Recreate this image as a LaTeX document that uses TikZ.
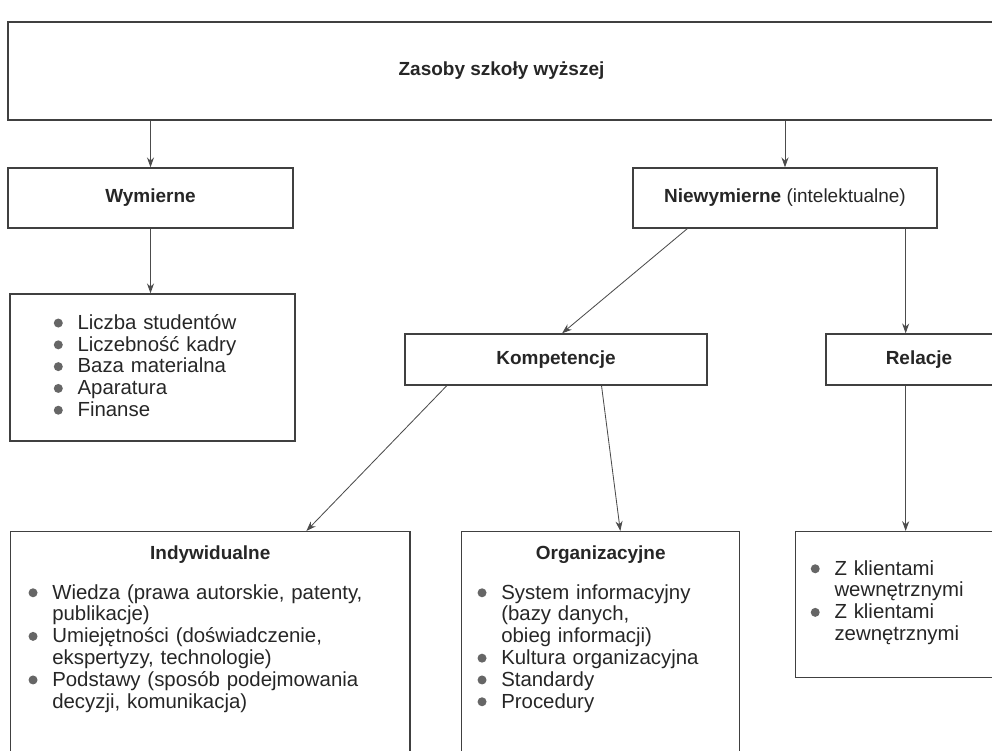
\documentclass[tikz,border=0pt]{standalone}
\usepackage{fontspec}
\setmainfont{Liberation Sans}
\usetikzlibrary{arrows.meta,positioning,calc}

\newcommand{\kropka}{\tikz[baseline=-0.31em]\fill[black!60] (0,0) circle (3.2pt);}
\newenvironment{punkty}{%
    \begin{list}{\kropka}{%
        \setlength{\labelwidth}{8pt}\setlength{\labelsep}{10.5pt}%
        \setlength{\leftmargin}{18.5pt}\setlength{\itemsep}{0pt}%
        \setlength{\parsep}{0pt}\setlength{\topsep}{0pt}%
        \setlength{\partopsep}{0pt}}}{\end{list}}

\begin{document}
\begin{tikzpicture}[x=0.025cm, y=-0.025cm,
    box/.style={draw=black!75, line width=1pt, inner sep=0pt},
    title/.style={font=\fontsize{13.5}{16}\selectfont\bfseries, text=black!85},
    items/.style={font=\fontsize{14.5}{15.5}\selectfont, text=black!85, text width=#1, inner sep=0pt, align=left},
    arr/.style={draw=black!70, line width=0.6pt, -{Stealth[length=7pt,width=5pt]}}]
    \useasboundingbox (0,0) rectangle (992,750);
    \clip (0,0) rectangle (992,750);
    \node[box, title, minimum width=24.675cm, minimum height=2.45cm] (zasoby) at (501.5,71) {Zasoby szkoły wyższej};
    \node[box, title, minimum width=7.125cm, minimum height=1.5cm] (wym) at (150.5,198) {Wymierne};
    \node[box, title, minimum width=7.6cm, minimum height=1.5cm] (niew) at (785,198) {Niewymierne {\mdseries (intelektualne)}};
    \node[box, minimum width=7.125cm, minimum height=3.675cm] (wymlista) at (152.5,367.5) {};
    \node[box, title, minimum width=7.55cm, minimum height=1.275cm] (komp) at (556,359.5) {Kompetencje};
    \node[box, title, minimum width=4.65cm, minimum height=1.275cm] (rel) at (919,359.5) {Relacje};
    \node[box, anchor=north west, minimum width=9.975cm, minimum height=6.5cm] (indyw) at (10,531) {};
    \node[box, anchor=north west, minimum width=6.95cm, minimum height=6.5cm] (org) at (461,531) {};
    \node[box, anchor=north west, minimum width=5.425cm, minimum height=3.65cm] (relk) at (795,531) {};

    \node[items=6cm, below right=0.35cm and 1.05cm of wymlista.north west] (wymlistatxt) {%
        \begin{punkty}
        \item Liczba studentów
        \item Liczebność kadry
        \item Baza materialna
        \item Aparatura
        \item Finanse
        \end{punkty}};
    \node[title, inner sep=0pt, below=0.35cm of indyw.north] (indywtit) {Indywidualne};
    \node[items=9cm, below right=1.15cm and 0.4cm of indyw.north west] (indywtxt) {%
        \begin{punkty}
        \item Wiedza (prawa autorskie, patenty,\newline publikacje)
        \item Umiejętności (doświadczenie,\newline ekspertyzy, technologie)
        \item Podstawy (sposób podejmowania\newline decyzji, komunikacja)
        \end{punkty}};
    \node[title, inner sep=0pt, below=0.35cm of org.north] (orgtit) {Organizacyjne};
    \node[items=6.5cm, below right=1.15cm and 0.35cm of org.north west] (orgtxt) {%
        \begin{punkty}
        \item System informacyjny\newline (bazy danych,\newline obieg informacji)
        \item Kultura organizacyjna
        \item Standardy
        \item Procedury
        \end{punkty}};
    \node[items=5cm, below right=0.55cm and 0.33cm of relk.north west] (relktxt) {%
        \begin{punkty}
        \item Z klientami\newline wewnętrznymi
        \item Z klientami\newline zewnętrznymi
        \end{punkty}};

    \draw[arr] (zasoby.south -| wym.north) -- (wym.north);
    \draw[arr] (zasoby.south -| niew.north) -- (niew.north);
    \draw[arr] (wym.south) -- (wym.south |- wymlista.north);
    \draw[arr] ($(niew.south west)!0.18!(niew.south east)$) -- ($(komp.north west)!0.52!(komp.north east)$);
    \coordinate (nrel) at ($(niew.south west)!0.895!(niew.south east)$);
    \draw[arr] (nrel) -- (nrel |- rel.north);
    \draw[arr] ($(komp.south west)!0.14!(komp.south east)$) -- ($(indyw.north west)!0.74!(indyw.north east)$);
    \draw[arr] ($(komp.south west)!0.65!(komp.south east)$) -- ($(org.north west)!0.57!(org.north east)$);
    \draw[arr] (rel.south -| nrel) -- (relk.north -| nrel);
\end{tikzpicture}
\end{document}
